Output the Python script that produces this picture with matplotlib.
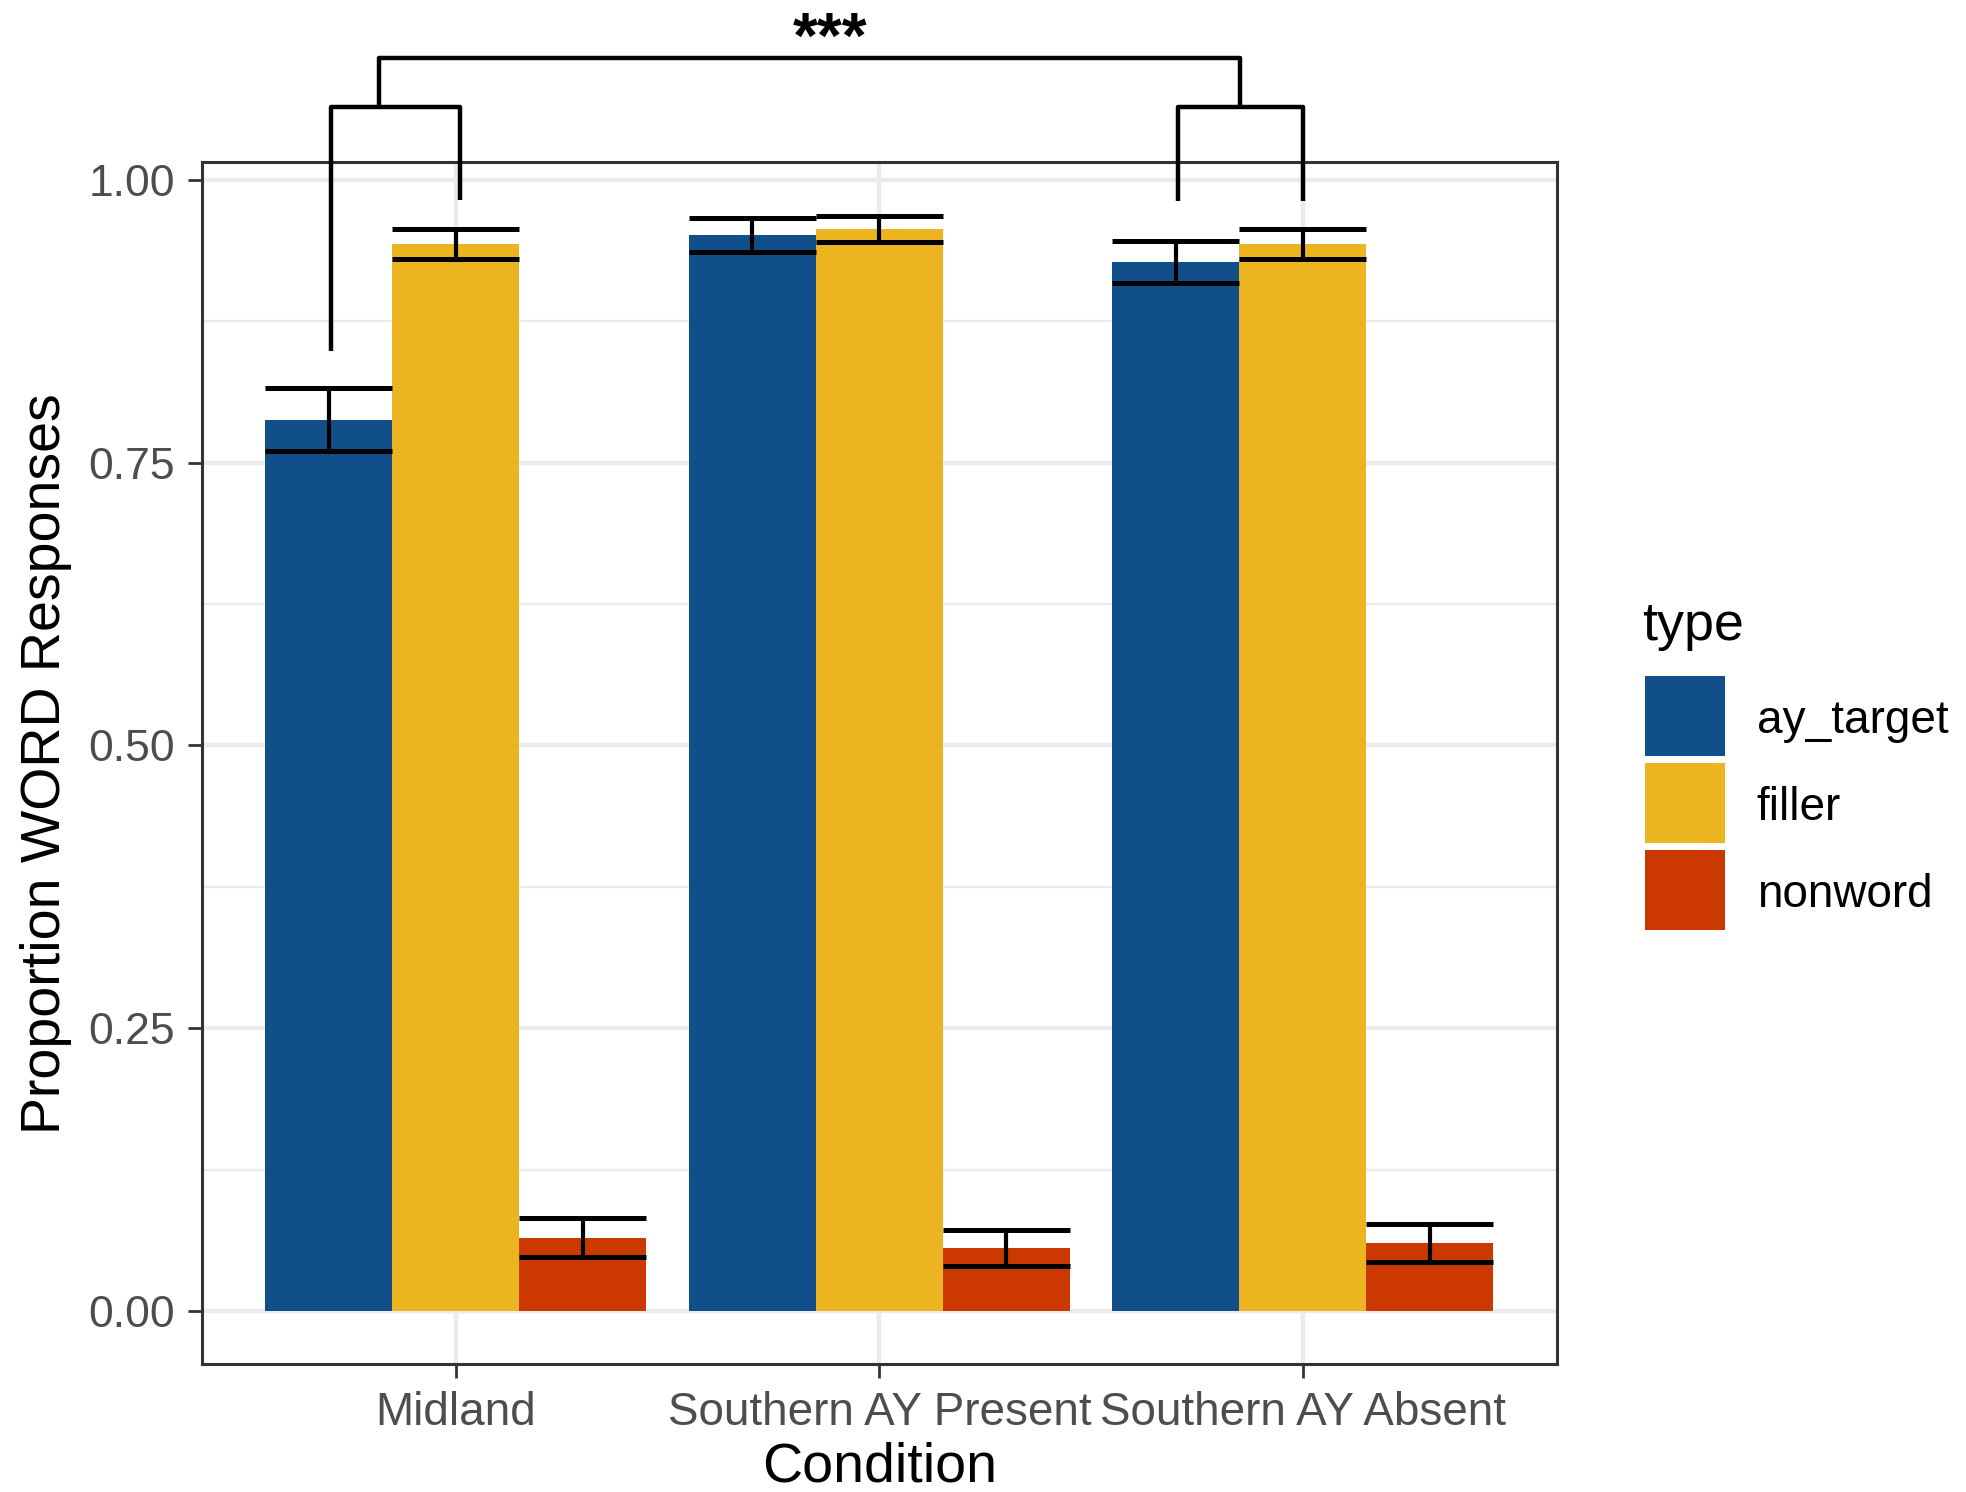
import numpy as np
import matplotlib
matplotlib.use("Agg")
import matplotlib.pyplot as plt
from matplotlib.patches import Rectangle

plt.rcParams["font.family"] = ["Liberation Sans", "DejaVu Sans"]

# ---- data -------------------------------------------------------------
conditions = ["Midland", "Southern AY Present", "Southern AY Absent"]
types = ["ay_target", "filler", "nonword"]
type_colors = ["#114F8A", "#EDB422", "#CC3900"]

ay_target_mean = [0.788, 0.951, 0.927]
ay_target_lo = [0.760, 0.936, 0.909]
ay_target_hi = [0.816, 0.966, 0.946]

filler_mean = [0.943, 0.956, 0.943]
filler_lo = [0.930, 0.945, 0.930]
filler_hi = [0.956, 0.968, 0.956]

nonword_mean = [0.0645, 0.0557, 0.0601]
nonword_lo = [0.0475, 0.0400, 0.0430]
nonword_hi = [0.0820, 0.0720, 0.0772]

y_ticks = [0.00, 0.25, 0.50, 0.75, 1.00]
y_tick_labels = ["0.00", "0.25", "0.50", "0.75", "1.00"]
signif_label = "***"

means = [ay_target_mean, filler_mean, nonword_mean]
lows = [ay_target_lo, filler_lo, nonword_lo]
highs = [ay_target_hi, filler_hi, nonword_hi]

# ---- figure ------------------------------------------------------------
W, H, DPI = 1966, 1492, 200
fig = plt.figure(figsize=(W / DPI, H / DPI), dpi=DPI)
ax = fig.add_axes([201.7 / W, 1 - 1364.3 / H, (1557 - 201.7) / W, (1364.3 - 162.3) / H])

grid_col = "#EBEBEB"
dark = "#333333"

x = np.arange(1, len(conditions) + 1)
dodge = 0.9
bw = dodge / len(types)
offsets = [(i - (len(types) - 1) / 2) * bw for i in range(len(types))]

for m, lo, hi, off, col in zip(means, lows, highs, offsets, type_colors):
    xs = x + off
    ax.bar(xs, m, width=bw, color=col, linewidth=0, zorder=2)
    ax.vlines(xs, lo, hi, color="black", linewidth=1.5, zorder=3)
    ax.hlines(lo, xs - bw / 2, xs + bw / 2, color="black", linewidth=1.8, zorder=3)
    ax.hlines(hi, xs - bw / 2, xs + bw / 2, color="black", linewidth=1.8, zorder=3)

ax.set_xlim(0.4, 3.6)
ax.set_ylim(-0.0471, 1.0154)

# grid
ax.set_yticks(y_ticks)
ax.set_yticklabels(y_tick_labels)
ax.set_yticks([0.125, 0.375, 0.625, 0.875], minor=True)
ax.set_xticks(x)
ax.set_xticklabels(conditions)
ax.grid(which="major", color=grid_col, linewidth=1.6, zorder=0)
ax.grid(which="minor", axis="y", color=grid_col, linewidth=0.85, zorder=0)
ax.set_axisbelow(True)
ax.tick_params(which="minor", length=0)
ax.tick_params(which="major", length=5, width=1.0, color=dark,
               labelcolor="#4D4D4D", pad=4.5)
ax.tick_params(axis="x", labelsize=16.5)
ax.tick_params(axis="y", labelsize=16)
for s in ax.spines.values():
    s.set_color(dark)
    s.set_linewidth(1.1)

# axis titles
ax.set_xlabel("Condition", fontsize=20)
ax.xaxis.label.set_va("baseline")
ax.xaxis.set_label_coords(0.5, -(1481 - 1364.3) / (1364.3 - 162.3))
ax.set_ylabel("Proportion WORD Responses", fontsize=20)
ax.yaxis.label.set_va("center")
ax.yaxis.set_label_coords((45.8 - 201.7) / (1557 - 201.7), 0.5)

# significance brackets
bk = dict(color="black", linewidth=1.6, clip_on=False, zorder=4,
          solid_capstyle="butt")
y_low_bracket = 1.064
y_top_bracket = 1.1076
# Midland pair
ax.plot([0.706, 0.706, 1.009, 1.009], [0.849, y_low_bracket, y_low_bracket, 0.982], **bk)
# Southern AY Absent pair
ax.plot([2.705, 2.705, 3.001, 3.001], [0.981, y_low_bracket, y_low_bracket, 0.981], **bk)
# overarching bracket
ax.plot([0.818, 0.818, 2.851, 2.851], [y_low_bracket, y_top_bracket, y_top_bracket, y_low_bracket], **bk)
ax.text(1.884, y_top_bracket, signif_label, ha="center", va="baseline",
        fontsize=23, fontweight="bold", clip_on=False)

# legend
fig.text(1642 / W, 1 - 640 / H, "type", fontsize=19.4, ha="left", va="baseline")
key = 80
key_tops = [676, 763, 850]
for t, col, top in zip(types, type_colors, key_tops):
    fig.add_artist(Rectangle((1645 / W, 1 - (top + key) / H), key / W, key / H,
                             transform=fig.transFigure, facecolor=col,
                             edgecolor="none"))
    fig.text(1756.7 / W, 1 - (top + key / 2 + 5) / H, t, fontsize=16.5,
             ha="left", va="center")

fig.savefig("out.png", dpi=DPI, facecolor="white")
